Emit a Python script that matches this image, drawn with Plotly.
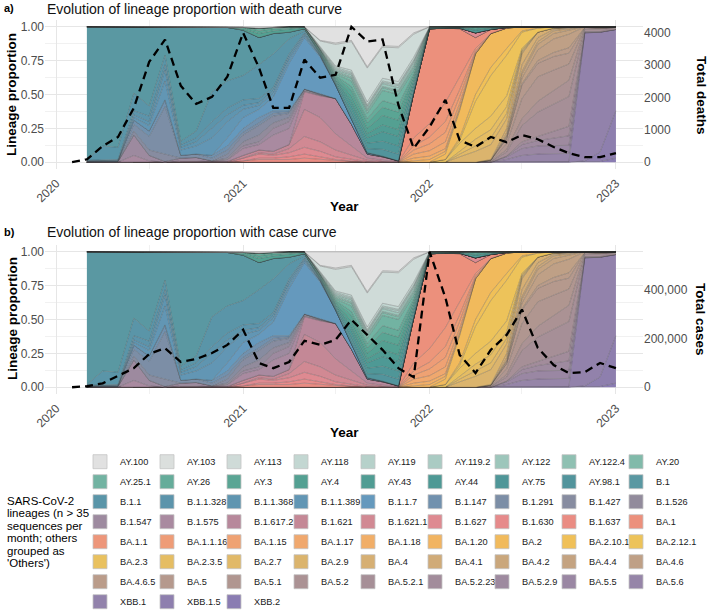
import plotly.graph_objects as go

W, H = 708, 611
FONT = "Liberation Sans, Arial, sans-serif"

# ---------------- categories ----------------
months = ["2020-03-01", "2020-04-01", "2020-05-01", "2020-06-01", "2020-07-01", "2020-08-01",
          "2020-09-01", "2020-10-01", "2020-11-01", "2020-12-01",
          "2021-01-01", "2021-02-01", "2021-03-01", "2021-04-01", "2021-05-01", "2021-06-01",
          "2021-07-01", "2021-08-01", "2021-09-01", "2021-10-01", "2021-11-01", "2021-12-01",
          "2022-01-01", "2022-02-01", "2022-03-01", "2022-04-01", "2022-05-01", "2022-06-01",
          "2022-07-01", "2022-08-01", "2022-09-01", "2022-10-01", "2022-11-01", "2022-12-01",
          "2023-01-01"]
curve_months = ["2020-02-01"] + months

year_ticks = ["2020-01-01", "2021-01-01", "2022-01-01", "2023-01-01"]
year_labels = ["2020", "2021", "2022", "2023"]

# ---------------- curves ----------------
total_deaths = [0, 90, 500, 780, 1680, 3100, 3790, 2360, 1800, 2020, 2640,
                4000, 2920, 1680, 1680, 3170, 2610, 2700, 4185, 3730, 3790, 1770, 430,
                1090, 1930, 680, 470, 780, 620, 840, 710, 470, 280, 155, 155,
                280]
total_cases = [0, 4000, 16000, 45000, 78000, 136000, 160000, 103000, 115000, 140000, 173000,
               235000, 99000, 78000, 103000, 190000, 173000, 194000, 276000, 214000, 153000, 78000, 41000,
               554000, 367000, 132000, 58000, 153000, 214000, 318000, 161000, 91000, 58000, 62000, 99000,
               78000]

# ---------------- lineage proportions (Mar20-Dec20 | 2021 | 2022 | Jan23) ----------------
AY_100 = [0,0,0,0,0,0,0,0,0,.005, .005,.01,.005,0,0,.10,.12,.10,.295,.14,.145,.045, 0,0,0,0,0,0,0,0,0,0,0,0, 0]
AY_103 = [0,0,0,0,0,0,0,0,0,0, 0,0,0,0,0,.005,.01,.01,.01,.01,.01,.01, 0,0,0,0,0,0,0,0,0,0,0,0, 0]
AY_113 = [0,0,0,0,0,0,0,0,0,0, 0,0,0,0,0,.04,.16,.21,.25,.23,.25,.17, 0,0,0,0,0,0,0,0,0,0,0,0, 0]
AY_118 = [0,0,0,0,0,0,0,0,0,0, 0,0,0,0,0,.005,.01,.015,.02,.02,.02,.02, 0,0,0,0,0,0,0,0,0,0,0,0, 0]
AY_119 = [0,0,0,0,0,0,0,0,0,0, 0,0,0,0,0,.005,.01,.01,.01,.01,.01,.01, 0,0,0,0,0,0,0,0,0,0,0,0, 0]
AY_119_2 = [0,0,0,0,0,0,0,0,0,0, 0,0,0,0,0,.005,.01,.01,.01,.01,.015,.01, 0,0,0,0,0,0,0,0,0,0,0,0, 0]
AY_122 = [0,0,0,0,0,0,0,0,0,0, 0,0,0,0,0,.005,.01,.015,.015,.02,.02,.02, 0,0,0,0,0,0,0,0,0,0,0,0, 0]
AY_122_4 = [0,0,0,0,0,0,0,0,0,0, 0,0,0,0,0,.0025,.01,.01,.01,.01,.01,.015, 0,0,0,0,0,0,0,0,0,0,0,0, 0]
AY_20 = [0,0,0,0,0,0,0,0,0,0, 0,0,0,0,0,.0025,.01,.02,.02,.02,.02,.02, 0,0,0,0,0,0,0,0,0,0,0,0, 0]
AY_25_1 = [0,0,0,0,0,0,0,0,0,0, 0,0,0,0,0,0,.01,.04,.04,.075,.08,.025, .005,0,0,0,0,0,0,0,0,0,0,0, 0]
AY_26 = [0,0,0,0,0,0,0,0,0,0, 0,.02,.01,.01,0,.005,.01,.03,.03,.05,.05,.02, 0,0,0,0,0,0,0,0,0,0,0,0, 0]
AY_3 = [0,0,0,0,0,0,0,0,0,0, .01,.02,.015,.01,.005,.005,.01,.04,.04,.06,.06,.02, 0,0,0,.01,0,0,0,0,0,0,0,0, 0]
AY_4 = [0,0,0,0,0,0,0,0,0,0, .01,.03,.02,.02,.01,.005,.01,.04,.04,.07,.07,.025, .005,.005,.005,.015,.01,.005,0,0,0,0,0,0, 0]
AY_43 = [0,0,0,0,0,0,0,0,0,0, 0,0,0,0,0,.005,.01,.03,.03,.05,.05,.02, 0,0,0,0,0,0,0,0,0,0,0,0, 0]
AY_44 = [0,0,0,0,0,0,0,0,0,0, 0,0,0,0,0,.005,.01,.04,.04,.07,.07,.025, .005,.005,.005,.02,.01,0,0,0,0,0,0,0, 0]
AY_75 = [0,0,0,0,0,0,0,0,0,0, 0,0,0,0,0,.005,.01,.03,.04,.06,.06,.02, 0,0,0,0,0,0,0,0,0,0,0,0, 0]
AY_98_1 = [0,0,0,0,0,0,0,0,0,0, 0,0,0,0,0,.005,.01,.03,.03,.05,.05,.015, 0,0,0,0,0,0,0,0,0,0,0,0, 0]
B_1 = [.98,.88,.89,.49,.585,.21,.845,.77,.48,.395, .335,.20,.15,.05,.015,.005,0,0,0,0,0,0, 0,0,0,0,0,0,0,0,0,0,0,0, 0]
B_1_1 = [.005,.10,.09,.13,.075,.07,.025,.05,.22,.20, .18,.25,.25,.11,.015,.005,0,0,0,0,0,0, 0,0,0,0,0,0,0,0,0,0,0,0, 0]
B_1_1_328 = [.005,.005,.005,.03,.04,.04,.02,.03,.05,.05, .04,.03,.02,.02,.01,0,0,0,0,0,0,0, 0,0,0,0,0,0,0,0,0,0,0,0, 0]
B_1_1_368 = [0,0,0,.02,.03,.08,.02,.03,.07,.05, .03,.02,.02,.02,.01,0,0,0,0,0,0,0, 0,0,0,0,0,0,0,0,0,0,0,0, 0]
B_1_1_389 = [0,.005,.005,.02,.04,.14,.04,.06,.13,.12, .06,.03,.03,.03,.015,.01,0,0,0,0,0,0, 0,0,0,0,0,0,0,0,0,0,0,0, 0]
B_1_1_7 = [0,0,0,0,0,0,0,0,0,.06, .08,.06,.10,.35,.38,.27,.10,.04,.01,.005,0,0, 0,0,0,0,0,0,0,0,0,0,0,0, 0]
B_1_147 = [.005,.005,.005,.03,.04,.05,0,0,.02,.03, .03,.04,.02,.01,0,0,0,0,0,0,0,0, 0,0,0,0,0,0,0,0,0,0,0,0, 0]
B_1_291 = [0,0,0,.05,.10,.35,.02,.025,.02,.03, .02,.02,.02,.01,0,.005,0,0,0,0,0,0, 0,0,0,0,0,0,0,0,0,0,0,0, 0]
B_1_427 = [0,0,0,.03,.04,.055,0,0,0,.03, .05,.07,.05,.03,0,0,0,0,0,0,0,0, 0,0,0,0,0,0,0,0,0,0,0,0, 0]
B_1_526 = [0,0,0,0,0,0,0,0,0,.01, .03,.05,.04,.03,.01,.005,0,0,0,0,0,0, 0,0,0,0,0,0,0,0,0,0,0,0, 0]
B_1_547 = [.005,.005,.005,.15,.04,.005,.02,.025,.005,.005, .02,.02,.05,.05,.005,0,0,0,0,0,0,0, 0,0,0,0,0,0,0,0,0,0,0,0, 0]
B_1_575 = [0,0,0,.05,.01,0,.01,.01,.005,.01, .05,.04,.12,.12,.005,.005,0,0,0,0,0,0, 0,0,0,0,0,0,0,0,0,0,0,0, 0]
B_1_617_2 = [0,0,0,0,0,0,0,0,0,0, 0,0,0,0,.13,.16,.26,.16,.03,.025,.005,0, 0,0,0,0,0,0,0,0,0,0,0,0, 0]
B_1_621 = [0,0,0,0,0,0,0,0,0,.005, .02,.02,.02,.03,.20,.18,.12,.07,.015,.01,.005,0, 0,0,0,0,0,0,0,0,0,0,0,0, 0]
B_1_621_1 = [0,0,0,0,0,0,0,0,0,0, 0,.01,.01,.03,.08,.07,.05,.03,.01,.005,0,0, 0,0,0,0,0,0,0,0,0,0,0,0, 0]
B_1_627 = [0,0,0,0,0,0,0,0,0,0, .02,.03,.02,.03,.05,.04,.02,.01,.005,0,0,0, 0,0,.005,.035,0,0,0,0,0,0,0,0, 0]
B_1_630 = [0,0,0,0,0,0,0,0,0,0, 0,.01,.01,.02,.03,.02,.01,.005,0,0,0,0, 0,0,0,0,0,0,0,0,0,0,0,0, 0]
B_1_637 = [0,0,0,0,0,0,0,0,0,0, .01,.02,.02,.02,.03,.02,.01,.005,0,0,0,0, 0,0,0,0,0,0,0,0,0,0,0,0, 0]
BA_1 = [0,0,0,0,0,0,0,0,0,0, 0,0,0,0,0,0,0,0,0,0,0,.33, .70,.55,.35,.08,.03,.005,0,0,0,0,0,0, 0]
BA_1_1 = [0,0,0,0,0,0,0,0,0,0, 0,0,0,0,0,0,0,0,0,0,0,.06, .10,.14,.10,.02,0,0,0,0,0,0,0,0, 0]
BA_1_1_16 = [0,0,0,0,0,0,0,0,0,0, 0,0,0,0,0,0,0,0,0,0,0,.03, .05,.08,.05,.01,0,0,0,0,0,0,0,0, 0]
BA_1_15 = [0,0,0,0,0,0,0,0,0,0, 0,0,0,0,0,0,0,0,0,0,0,.03, .05,.07,.05,.01,0,0,0,0,0,0,0,0, 0]
BA_1_17 = [0,0,0,0,0,0,0,0,0,0, 0,0,0,0,0,0,0,0,0,0,0,.03, .04,.05,.03,0,0,0,0,0,0,0,0,0, 0]
BA_1_18 = [0,0,0,0,0,0,0,0,0,0, 0,0,0,0,0,0,0,0,0,0,0,.02, .025,.02,.015,0,0,0,0,0,0,0,0,0, 0]
BA_1_20 = [0,0,0,0,0,0,0,0,0,0, 0,0,0,0,0,0,0,0,0,0,0,.01, .02,.02,.01,0,0,0,0,0,0,0,0,0, 0]
BA_2 = [0,0,0,0,0,0,0,0,0,0, 0,0,0,0,0,0,0,0,0,0,0,0, 0,.04,.20,.30,.25,.15,.03,.01,0,0,0,.005, .005]
BA_2_10_1 = [0,0,0,0,0,0,0,0,0,0, 0,0,0,0,0,0,0,0,0,0,0,0, 0,0,.02,.05,.06,.05,.01,0,0,0,0,0, 0]
BA_2_12_1 = [0,0,0,0,0,0,0,0,0,0, 0,0,0,0,0,0,0,0,0,0,0,0, 0,0,.02,.20,.30,.30,.12,.03,.01,.005,0,0, 0]
BA_2_3 = [0,0,0,0,0,0,0,0,0,0, 0,0,0,0,0,0,0,0,0,0,0,0, 0,.02,.06,.08,.10,.08,.01,0,0,0,0,0, 0]
BA_2_3_5 = [0,0,0,0,0,0,0,0,0,0, 0,0,0,0,0,0,0,0,0,0,0,0, 0,0,.02,.05,.06,.05,.01,0,0,0,0,0, 0]
BA_2_7 = [0,0,0,0,0,0,0,0,0,0, 0,0,0,0,0,0,0,0,0,0,0,0, 0,0,.02,.04,.05,.04,.01,0,0,0,0,0, 0]
BA_2_9 = [0,0,0,0,0,0,0,0,0,0, 0,0,0,0,0,0,0,0,0,0,0,0, 0,0,.04,.08,.11,.07,.01,0,0,0,0,0, 0]
BA_4 = [0,0,0,0,0,0,0,0,0,0, 0,0,0,0,0,0,0,0,0,0,0,0, 0,0,0,0,.005,.03,.08,.04,.01,.005,0,0, 0]
BA_4_1 = [0,0,0,0,0,0,0,0,0,0, 0,0,0,0,0,0,0,0,0,0,0,0, 0,0,0,0,0,.02,.05,.03,.01,.005,0,0, 0]
BA_4_2 = [0,0,0,0,0,0,0,0,0,0, 0,0,0,0,0,0,0,0,0,0,0,0, 0,0,0,0,0,.005,.02,.02,.02,.01,0,0, 0]
BA_4_4 = [0,0,0,0,0,0,0,0,0,0, 0,0,0,0,0,0,0,0,0,0,0,0, 0,0,0,0,0,.01,.03,.04,.04,.03,0,0, 0]
BA_4_6 = [0,0,0,0,0,0,0,0,0,0, 0,0,0,0,0,0,0,0,0,0,0,0, 0,0,0,0,0,.01,.04,.08,.10,.10,.005,.005, 0]
BA_4_6_5 = [0,0,0,0,0,0,0,0,0,0, 0,0,0,0,0,0,0,0,0,0,0,0, 0,0,0,0,0,0,.01,.02,.03,.04,0,0, 0]
BA_5 = [0,0,0,0,0,0,0,0,0,0, 0,0,0,0,0,0,0,0,0,0,0,0, 0,0,0,0,.005,.04,.10,.10,.10,.08,0,0, 0]
BA_5_1 = [0,0,0,0,0,0,0,0,0,0, 0,0,0,0,0,0,0,0,0,0,0,0, 0,0,0,0,.005,.04,.15,.18,.15,.12,.005,0, 0]
BA_5_2 = [0,0,0,0,0,0,0,0,0,0, 0,0,0,0,0,0,0,0,0,0,0,0, 0,0,0,0,0,.02,.05,.08,.10,.12,.01,.01, .005]
BA_5_2_1 = [0,0,0,0,0,0,0,0,0,0, 0,0,0,0,0,0,0,0,0,0,0,0, 0,0,0,0,.005,.03,.12,.18,.20,.22,.015,.015, .01]
BA_5_2_23 = [0,0,0,0,0,0,0,0,0,0, 0,0,0,0,0,0,0,0,0,0,0,0, 0,0,0,0,0,0,.02,.03,.05,.07,.005,.005, 0]
BA_5_2_9 = [0,0,0,0,0,0,0,0,0,0, 0,0,0,0,0,0,0,0,0,0,0,0, 0,0,0,0,0,.005,.03,.04,.06,.07,0,0, 0]
BA_5_5 = [0,0,0,0,0,0,0,0,0,0, 0,0,0,0,0,0,0,0,0,0,0,0, 0,0,0,0,0,.02,.05,.06,.06,.06,.005,0, 0]
BA_5_6 = [0,0,0,0,0,0,0,0,0,0, 0,0,0,0,0,0,0,0,0,0,0,0, 0,0,0,0,0,.02,.05,.06,.06,.06,0,0, 0]
XBB_1 = [0,0,0,0,0,0,0,0,0,0, 0,0,0,0,0,0,0,0,0,0,0,0, 0,0,0,0,0,0,0,0,0,.005,.945,.885, .60]
XBB_1_5 = [0,0,0,0,0,0,0,0,0,0, 0,0,0,0,0,0,0,0,0,0,0,0, 0,0,0,0,0,0,0,0,0,0,.005,.07, .35]
XBB_2 = [0,0,0,0,0,0,0,0,0,0, 0,0,0,0,0,0,0,0,0,0,0,0, 0,0,0,0,0,0,0,0,0,0,.005,.005, .03]

lineages = ["AY.100", "AY.103", "AY.113", "AY.118", "AY.119", "AY.119.2", "AY.122", "AY.122.4", "AY.20",
            "AY.25.1", "AY.26", "AY.3", "AY.4", "AY.43", "AY.44", "AY.75", "AY.98.1", "B.1",
            "B.1.1", "B.1.1.328", "B.1.1.368", "B.1.1.389", "B.1.1.7", "B.1.147", "B.1.291", "B.1.427", "B.1.526",
            "B.1.547", "B.1.575", "B.1.617.2", "B.1.621", "B.1.621.1", "B.1.627", "B.1.630", "B.1.637", "BA.1",
            "BA.1.1", "BA.1.1.16", "BA.1.15", "BA.1.17", "BA.1.18", "BA.1.20", "BA.2", "BA.2.10.1", "BA.2.12.1",
            "BA.2.3", "BA.2.3.5", "BA.2.7", "BA.2.9", "BA.4", "BA.4.1", "BA.4.2", "BA.4.4", "BA.4.6",
            "BA.4.6.5", "BA.5", "BA.5.1", "BA.5.2", "BA.5.2.1", "BA.5.2.23", "BA.5.2.9", "BA.5.5", "BA.5.6",
            "XBB.1", "XBB.1.5", "XBB.2"]

lineage_colors = ["#e1e1e1", "#dbdfdd", "#cfdbd8", "#c3d7d2", "#b6d1ca", "#aacbc3", "#9dc6bb", "#8fc0b2", "#81baaa",
                  "#72b3a2", "#65ac9a", "#5aa594", "#54a092", "#509c93", "#4e9995", "#4f9698", "#52949c", "#5a98a2",
                  "#5a95a8", "#5c94ab", "#5f95b0", "#6296b4", "#6599bd", "#7191ae", "#7c8ea6", "#878ca0", "#928b9c",
                  "#9d8a9f", "#a98aa0", "#b7889b", "#c48896", "#d18993", "#de8a91", "#e68a8b", "#ea8c83", "#ec907c",
                  "#ed967a", "#ee9c77", "#efa273", "#f0a86e", "#f1ae68", "#f1b462", "#f1ba5c", "#f0c058", "#edc35a",
                  "#e9c15f", "#e5bd63", "#e1b968", "#dbb46d", "#d6af73", "#d0ab78", "#caa77c", "#c4a381", "#bfa086",
                  "#ba9c8a", "#b5998d", "#b09690", "#ab9294", "#a68f97", "#a28c9b", "#9e8a9f", "#9a87a3", "#9685a8",
                  "#9282ab", "#8e7fae", "#8a7cb2"]

lineage_values = {
    "AY.100": AY_100, "AY.103": AY_103, "AY.113": AY_113, "AY.118": AY_118, "AY.119": AY_119,
    "AY.119.2": AY_119_2, "AY.122": AY_122, "AY.122.4": AY_122_4, "AY.20": AY_20, "AY.25.1": AY_25_1,
    "AY.26": AY_26, "AY.3": AY_3, "AY.4": AY_4, "AY.43": AY_43, "AY.44": AY_44, "AY.75": AY_75,
    "AY.98.1": AY_98_1, "B.1": B_1, "B.1.1": B_1_1, "B.1.1.328": B_1_1_328, "B.1.1.368": B_1_1_368,
    "B.1.1.389": B_1_1_389, "B.1.1.7": B_1_1_7, "B.1.147": B_1_147, "B.1.291": B_1_291, "B.1.427": B_1_427,
    "B.1.526": B_1_526, "B.1.547": B_1_547, "B.1.575": B_1_575, "B.1.617.2": B_1_617_2, "B.1.621": B_1_621,
    "B.1.621.1": B_1_621_1, "B.1.627": B_1_627, "B.1.630": B_1_630, "B.1.637": B_1_637, "BA.1": BA_1,
    "BA.1.1": BA_1_1, "BA.1.1.16": BA_1_1_16, "BA.1.15": BA_1_15, "BA.1.17": BA_1_17, "BA.1.18": BA_1_18,
    "BA.1.20": BA_1_20, "BA.2": BA_2, "BA.2.10.1": BA_2_10_1, "BA.2.12.1": BA_2_12_1, "BA.2.3": BA_2_3,
    "BA.2.3.5": BA_2_3_5, "BA.2.7": BA_2_7, "BA.2.9": BA_2_9, "BA.4": BA_4, "BA.4.1": BA_4_1,
    "BA.4.2": BA_4_2, "BA.4.4": BA_4_4, "BA.4.6": BA_4_6, "BA.4.6.5": BA_4_6_5, "BA.5": BA_5,
    "BA.5.1": BA_5_1, "BA.5.2": BA_5_2, "BA.5.2.1": BA_5_2_1, "BA.5.2.23": BA_5_2_23, "BA.5.2.9": BA_5_2_9,
    "BA.5.5": BA_5_5, "BA.5.6": BA_5_6, "XBB.1": XBB_1, "XBB.1.5": XBB_1_5, "XBB.2": XBB_2,
}
for nm, v in lineage_values.items():
    assert len(v) == len(months), (nm, len(v))
color_of = dict(zip(lineages, lineage_colors))

fig = go.Figure()

# ---------------- stacked areas (first trace = bottom of the stack) ----------------
stack_order = list(reversed(lineages))
for xa, ya, grp in [("x", "y", "a"), ("x2", "y3", "b")]:
    for k, nm in enumerate(stack_order):
        fig.add_trace(go.Scatter(
            x=months, y=lineage_values[nm], xaxis=xa, yaxis=ya,
            stackgroup=grp, groupnorm="fraction" if k == 0 else None,
            mode="lines", line=dict(color="rgba(45,45,45,0.7)", width=0.4),
            fillcolor=color_of[nm], showlegend=False, hoverinfo="skip"))

# ---------------- dashed curves on secondary axes ----------------
fig.add_trace(go.Scatter(x=curve_months, y=total_deaths, xaxis="x", yaxis="y2", mode="lines",
                         line=dict(color="black", width=2.3, dash="8px,5px"),
                         showlegend=False, hoverinfo="skip"))
fig.add_trace(go.Scatter(x=curve_months, y=total_cases, xaxis="x2", yaxis="y4", mode="lines",
                         line=dict(color="black", width=2.3, dash="8px,5px"),
                         showlegend=False, hoverinfo="skip"))

# ---------------- legend entries (9 per row, one legend per row) ----------------
PER_ROW = 9
ENTRY_W = 22.0
for i, nm in enumerate(lineages):
    row, col = divmod(i, PER_ROW)
    lg = "legend" if row == 0 else f"legend{row + 1}"
    fig.add_trace(go.Scatter(
        x=[None], y=[None], xaxis="x", yaxis="y", mode="markers", name=nm, legend=lg,
        legendwidth=ENTRY_W if col < PER_ROW - 1 else 60,
        marker=dict(symbol="square", size=14, color=color_of[nm], line=dict(color="#c4c4c4", width=0.8)),
        showlegend=True, hoverinfo="skip"))

n_rows = (len(lineages) + PER_ROW - 1) // PER_ROW
legends = {}
for row in range(n_rows):
    key = "legend" if row == 0 else f"legend{row + 1}"
    legends[key] = dict(orientation="h", x=80 / W, xanchor="left",
                        y=1 - (461.7 + 20 * row) / H, yanchor="middle",
                        entrywidthmode="pixels",
                        font=dict(size=9.2, color="#1a1a1a", family=FONT),
                        bgcolor="rgba(0,0,0,0)", borderwidth=0, traceorder="normal",
                        itemclick=False, itemdoubleclick=False)

# ---------------- axes ----------------
GRID = "#e6e6e6"
MINOR = "#f1f1f1"
tickfont = dict(size=12, color="#4d4d4d", family=FONT)
xdom = [45 / W, 643 / W]
xcommon = dict(type="date", range=["2019-12-10", "2023-02-23"], domain=xdom,
               tickmode="array", tickvals=year_ticks, ticktext=year_labels, tickangle=-45,
               tickfont=tickfont, showgrid=True, gridcolor=GRID, gridwidth=1,
               minor=dict(dtick="M6", tick0="2020-01-01", showgrid=True, gridcolor=MINOR, gridwidth=0.6),
               zeroline=False, showline=False, ticks="", ticklabelstandoff=4)
ycommon = dict(range=[-0.05, 1.05], tickmode="array", tickvals=[0, 0.25, 0.5, 0.75, 1],
               ticktext=["0.00", "0.25", "0.50", "0.75", "1.00"], tickfont=tickfont,
               showgrid=True, gridcolor=GRID, gridwidth=1,
               minor=dict(tickmode="array", tickvals=[0.125, 0.375, 0.625, 0.875], showgrid=True,
                          gridcolor=MINOR, gridwidth=0.6),
               zeroline=False, showline=False, ticks="")

death_scale = max(total_deaths)
case_scale = max(total_cases)
dom_a = [1 - 169 / H, 1 - 20 / H]
dom_b = [1 - 394 / H, 1 - 245 / H]

fig.update_layout(
    width=W, height=H, margin=dict(l=0, r=0, t=0, b=0, autoexpand=False),
    paper_bgcolor="white", plot_bgcolor="white",
    font=dict(family=FONT, color="#1a1a1a"),
    xaxis=dict(**xcommon, anchor="y"),
    yaxis=dict(**ycommon, domain=dom_a, anchor="x"),
    yaxis2=dict(overlaying="y", side="right", anchor="x",
                range=[-0.05 * death_scale, 1.05 * death_scale],
                tickmode="array", tickvals=[0, 1000, 2000, 3000, 4000], tickformat="d",
                tickfont=tickfont, showgrid=False, zeroline=False, ticks=""),
    xaxis2=dict(**xcommon, anchor="y3"),
    yaxis3=dict(**ycommon, domain=dom_b, anchor="x2"),
    yaxis4=dict(overlaying="y3", side="right", anchor="x2",
                range=[-0.05 * case_scale, 1.05 * case_scale],
                tickmode="array", tickvals=[0, 200000, 400000], tickformat=",d",
                tickfont=tickfont, showgrid=False, zeroline=False, ticks=""),
    showlegend=True,
    **legends,
)

# ---------------- text ----------------
def ann(text, xp, yp, size, xanchor="center", angle=0, color="#000000"):
    fig.add_annotation(text=text, x=xp / W, y=1 - yp / H, xref="paper", yref="paper",
                       xanchor=xanchor, yanchor="middle", textangle=angle, showarrow=False,
                       font=dict(size=size, color=color, family=FONT))

ann("<b>a)</b>", 2, 8, 11, xanchor="left")
ann("Evolution of lineage proportion with death curve", 45, 9, 14, xanchor="left", color="#111111")
ann("<b>b)</b>", 2, 232, 11, xanchor="left")
ann("Evolution of lineage proportion with case curve", 45, 232, 14, xanchor="left", color="#111111")
ann("<b>Lineage proportion</b>", 12, 95, 13.5, angle=-90)
ann("<b>Lineage proportion</b>", 12, 319, 13.5, angle=-90)
ann("<b>Total deaths</b>", 701, 95, 13.5, angle=90)
ann("<b>Total cases</b>", 701, 319, 13.5, angle=90)
ann("<b>Year</b>", 344, 207, 13.5)
ann("<b>Year</b>", 344, 432, 13.5)

legend_title_lines = ["SARS-CoV-2", "lineages (n > 35", "sequences per", "month; others", "grouped as", "'Others')"]
for j, line in enumerate(legend_title_lines):
    ann(line, 5, 500.7 + 12.5 * j, 11.5, xanchor="left")

fig.write_html("out.html")
